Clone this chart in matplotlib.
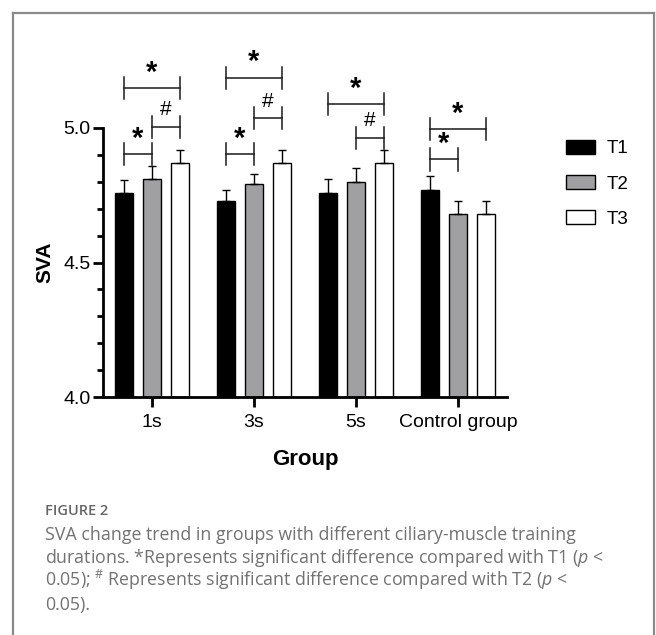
import matplotlib
matplotlib.use("Agg")
import matplotlib.pyplot as plt
import numpy as np
from matplotlib.patches import Patch
from matplotlib.ticker import MultipleLocator

plt.rcParams['font.family'] = ['Liberation Sans', 'DejaVu Sans']
plt.rcParams['mathtext.fontset'] = 'custom'
plt.rcParams['mathtext.rm'] = 'Open Sans'
plt.rcParams['mathtext.it'] = 'Open Sans:italic'

groups = ["1s", "3s", "5s", "Control group"]
series = ["T1", "T2", "T3"]
t1_mean = [4.76, 4.73, 4.76, 4.77]
t2_mean = [4.81, 4.79, 4.80, 4.68]
t3_mean = [4.87, 4.87, 4.87, 4.68]
t1_err = [0.045, 0.04, 0.05, 0.05]
t2_err = [0.05, 0.04, 0.05, 0.05]
t3_err = [0.05, 0.05, 0.05, 0.05]

# significance brackets: (group index, from series, to series, label, bracket level)
sig_group = [0, 0, 0, 1, 1, 1, 2, 2, 3, 3]
sig_from = [0, 1, 0, 0, 1, 0, 1, 0, 0, 0]
sig_to = [1, 2, 2, 1, 2, 2, 2, 2, 1, 2]
sig_label = ["*", "#", "*", "*", "#", "*", "#", "*", "*", "*"]
sig_level = [4.902, 5.005, 5.147, 4.902, 5.036, 5.187, 4.964, 5.088, 4.883, 4.996]

means = [t1_mean, t2_mean, t3_mean]
errs = [t1_err, t2_err, t3_err]
colors = ["black", "#a0a0a2", "white"]

fig = plt.figure(figsize=(6.56, 6.35), dpi=100)
ax = fig.add_axes([103/656, 1-397/635, (507-103)/656, 269/635])

x = np.arange(len(groups))
offs = [-0.2745, 0.0, 0.2745]
width = 0.172
for k in range(3):
    ax.bar(x + offs[k], np.array(means[k]) - 4.0, width, bottom=4.0,
           color=colors[k], edgecolor="black", linewidth=1.0, zorder=2,
           clip_on=False)
    ax.errorbar(x + offs[k], means[k], yerr=[np.zeros(4), errs[k]], fmt="none",
                ecolor="black", elinewidth=1.0, capsize=3.2, capthick=1.0,
                zorder=3, clip_on=False)

tick_h = 0.041
for g, a, b, lab, lv in zip(sig_group, sig_from, sig_to, sig_label, sig_level):
    xa = g + offs[a]
    xb = g + offs[b]
    ax.plot([xa, xb], [lv, lv], color="#1a1a1a", lw=1.1, clip_on=False, zorder=4)
    for xx in (xa, xb):
        ax.plot([xx, xx], [lv - tick_h, lv + tick_h], color="#1a1a1a", lw=1.1,
                clip_on=False, zorder=4)
    if lab == "*":
        ax.text((xa + xb) / 2, lv + 0.028, "*", ha="center", va="baseline",
                fontsize=21, fontweight="bold", clip_on=False)
    else:
        ax.text((xa + xb) / 2, lv + 0.042, "#", ha="center", va="baseline",
                fontsize=15, clip_on=False)

ax.set_ylim(4.0, 5.0)
ax.set_xlim(-0.48, 3.48)
ax.set_yticks([4.0, 4.5, 5.0])
ax.set_yticklabels(["4.0", "4.5", "5.0"])
ax.yaxis.set_minor_locator(MultipleLocator(0.1))
ax.set_xticks(x)
ax.set_xticklabels(groups)
for s in ["top", "right"]:
    ax.spines[s].set_visible(False)
for s in ["left", "bottom"]:
    ax.spines[s].set_linewidth(2.0)
ax.tick_params(axis="both", which="major", length=7, width=2.0, labelsize=14, pad=2)
ax.tick_params(axis="y", which="minor", length=4, width=2.0)
ax.tick_params(axis="x", which="major", pad=5)
ax.set_xlabel("Group", fontsize=16, fontweight="bold", labelpad=13)
ax.set_ylabel("SVA", fontsize=15, fontweight="bold", labelpad=6)

handles = [Patch(facecolor=colors[k], edgecolor="black", linewidth=1.0, label=series[k])
           for k in range(3)]
fig.legend(handles=handles, loc="upper left", bbox_to_anchor=(566/656, 1-140/635),
           frameon=False, fontsize=13.5, handlelength=1.55, handleheight=0.75,
           handletextpad=0.6, labelspacing=0.95, borderpad=0, borderaxespad=0)

# outer frame
frame_col = "#8a8a8a"
fig.add_artist(plt.Line2D([13/656, 13/656], [0, 1-13/635], color=frame_col, lw=1.6))
fig.add_artist(plt.Line2D([13/656, 654/656], [1-13/635, 1-13/635], color=frame_col, lw=1.6))
fig.add_artist(plt.Line2D([654/656, 654/656], [0, 1-13/635], color=frame_col, lw=1.6))

cap_col = "#727272"
fig.text(45/656, 1-515/635, "FIGURE 2", fontsize=10.5, color="#666666",
         family="Open Sans", fontweight="semibold", va="baseline")
lines = [
    "SVA change trend in groups with different ciliary-muscle training",
    "durations. *Represents significant difference compared with T1 ($\\it{p}$ <",
    "0.05); $^{\\#}$ Represents significant difference compared with T2 ($\\it{p}$ <",
    "0.05).",
]
bases = [539.5, 563.0, 586.5, 610.0]
for ln, b in zip(lines, bases):
    fig.text(45/656, 1-b/635, ln, fontsize=12.8, color=cap_col,
             family="Open Sans", va="baseline")

fig.savefig("out.png", dpi=100)
